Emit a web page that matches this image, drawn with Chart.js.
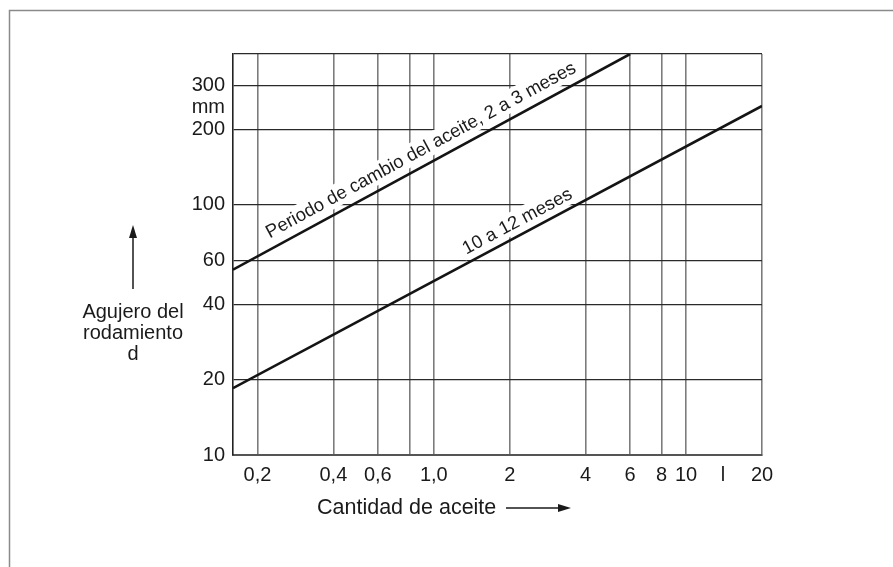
<!DOCTYPE html>
<html>
<head>
<meta charset="utf-8">
<script src="https://cdn.jsdelivr.net/npm/chart.js@4.4.1/dist/chart.umd.min.js"></script>
<style>
  html, body { margin: 0; padding: 0; background: #fff; }
  #wrap { width: 893px; height: 567px; position: relative; }
</style>
</head>
<body>
<div id="wrap"><canvas id="chart"></canvas></div>
<script>
// Oil quantity (l) vs bearing bore (mm), log-log
const xTicks = [0.2, 0.4, 0.6, 0.8, 1, 2, 4, 6, 8, 10, 14, 20];
const xTickLabels = ["0,2", "0,4", "0,6", "", "1,0", "2", "4", "6", "8", "10", "l", "20"];
const yTicks = [10, 20, 40, 60, 100, 200, 245, 300, 400];
const yTickLabels = ["10", "20", "40", "60", "100", "200", "mm", "300", ""];
// ticks that only carry a unit label, no grid line
const unitTicks = [14, 245];

const shortPeriodX = [0.16, 6];
const shortPeriodY = [55, 400];
const longPeriodX = [0.16, 20];
const longPeriodY = [18.5, 248];

const shortPeriodLabel = "Periodo de cambio del aceite, 2 a 3 meses";
const longPeriodLabel = "10 a 12 meses";
const xTitle = "Cantidad de aceite";
const yTitle = ["Agujero del", "rodamiento", "d"];

const FONT = "'Liberation Sans', Arial, sans-serif";

const toPoints = (xs, ys) => xs.map((x, i) => ({ x, y: ys[i] }));

// text along a line, placed at a given x value
function drawLineLabel(chart, xs, ys, text, atX, offset) {
  const { ctx, scales } = chart;
  const px1 = scales.x.getPixelForValue(xs[0]);
  const py1 = scales.y.getPixelForValue(ys[0]);
  const px2 = scales.x.getPixelForValue(xs[1]);
  const py2 = scales.y.getPixelForValue(ys[1]);
  const angle = Math.atan2(py2 - py1, px2 - px1);
  const slope = Math.log(ys[1] / ys[0]) / Math.log(xs[1] / xs[0]);
  const yAt = ys[0] * Math.pow(atX / xs[0], slope);
  const cx = scales.x.getPixelForValue(atX) + Math.sin(angle) * offset;
  const cy = scales.y.getPixelForValue(yAt) - Math.cos(angle) * offset;

  ctx.save();
  ctx.translate(cx, cy);
  ctx.rotate(angle);
  ctx.font = "18.5px " + FONT;
  const w = ctx.measureText(text).width;
  ctx.fillStyle = "#fff";
  ctx.fillRect(-w / 2 - 3, -11, w + 6, 22);
  ctx.fillStyle = "#1a1a1a";
  ctx.textAlign = "center";
  ctx.textBaseline = "middle";
  ctx.fillText(text, 0, 1);
  ctx.restore();
}

function arrowHead(ctx, x, y, dir) {
  // dir: "up" or "right"
  ctx.beginPath();
  if (dir === "up") {
    ctx.moveTo(x, y);
    ctx.lineTo(x - 4, y + 13);
    ctx.lineTo(x + 4, y + 13);
  } else {
    ctx.moveTo(x, y);
    ctx.lineTo(x - 13, y - 4);
    ctx.lineTo(x - 13, y + 4);
  }
  ctx.closePath();
  ctx.fill();
}

const decorations = {
  id: "decorations",
  beforeDraw(chart) {
    const { ctx } = chart;
    // outer frame
    ctx.save();
    ctx.strokeStyle = "#8a8a8a";
    ctx.lineWidth = 1.5;
    ctx.beginPath();
    ctx.moveTo(9.5, 567);
    ctx.lineTo(9.5, 10.5);
    ctx.lineTo(893, 10.5);
    ctx.stroke();
    ctx.restore();
  },
  afterDatasetsDraw(chart) {
    drawLineLabel(chart, shortPeriodX, shortPeriodY, shortPeriodLabel, 0.95, 16);
    drawLineLabel(chart, longPeriodX, longPeriodY, longPeriodLabel, 2.27, 14);
  },
  afterDraw(chart) {
    const { ctx } = chart;
    ctx.save();
    ctx.fillStyle = "#1a1a1a";
    ctx.strokeStyle = "#1a1a1a";
    ctx.font = "20px " + FONT;
    ctx.textBaseline = "alphabetic";

    // x title with arrow
    ctx.textAlign = "left";
    ctx.font = "21.5px " + FONT;
    ctx.fillText(xTitle, 317, 514);
    ctx.lineWidth = 1.5;
    ctx.beginPath();
    ctx.moveTo(506, 508);
    ctx.lineTo(560, 508);
    ctx.stroke();
    arrowHead(ctx, 571, 508, "right");

    // y title with arrow
    ctx.textAlign = "center";
    ctx.font = "20px " + FONT;
    yTitle.forEach((line, i) => ctx.fillText(line, 133, 318 + i * 21));
    ctx.beginPath();
    ctx.moveTo(133, 289);
    ctx.lineTo(133, 236);
    ctx.stroke();
    arrowHead(ctx, 133, 225, "up");
    ctx.restore();
  }
};

new Chart(document.getElementById("chart"), {
  type: "line",
  data: {
    datasets: [
      {
        label: shortPeriodLabel,
        data: toPoints(shortPeriodX, shortPeriodY),
        borderColor: "#141414",
        borderWidth: 2.6,
        pointRadius: 0,
      },
      {
        label: longPeriodLabel,
        data: toPoints(longPeriodX, longPeriodY),
        borderColor: "#141414",
        borderWidth: 2.6,
        pointRadius: 0,
      },
    ],
  },
  options: {
    animation: false,
    responsive: true,
    maintainAspectRatio: false,
    layout: { padding: { top: 54, right: 131, left: 0, bottom: 0 } },
    plugins: {
      legend: { display: false },
      tooltip: { enabled: false },
    },
    scales: {
      x: {
        type: "logarithmic",
        min: 0.16,
        max: 20,
        afterBuildTicks: (scale) => { scale.ticks = xTicks.map((v) => ({ value: v })); },
        afterFit: (scale) => { scale.height = 112; },
        grid: {
          drawTicks: false,
          lineWidth: 1.6,
          color: (c) => (c.tick && unitTicks.includes(c.tick.value) ? "rgba(0,0,0,0)" : "#7c7c7c"),
        },
        border: { color: "#555", width: 2 },
        ticks: {
          autoSkip: false,
          maxRotation: 0,
          padding: 8,
          color: "#1a1a1a",
          font: { family: FONT, size: 20 },
          callback: (value, index) => xTickLabels[index],
        },
      },
      y: {
        type: "logarithmic",
        min: 10,
        max: 400,
        afterBuildTicks: (scale) => { scale.ticks = yTicks.map((v) => ({ value: v })); },
        afterFit: (scale) => { scale.width = 233; },
        grid: {
          drawTicks: false,
          lineWidth: 1.2,
          color: (c) => (c.tick && unitTicks.includes(c.tick.value) ? "rgba(0,0,0,0)" : "#2a2a2a"),
        },
        border: { color: "#222", width: 1.6 },
        ticks: {
          autoSkip: false,
          padding: 8,
          color: "#1a1a1a",
          font: { family: FONT, size: 20 },
          callback: (value, index) => yTickLabels[index],
        },
      },
    },
  },
  plugins: [decorations],
});
</script>
</body>
</html>
